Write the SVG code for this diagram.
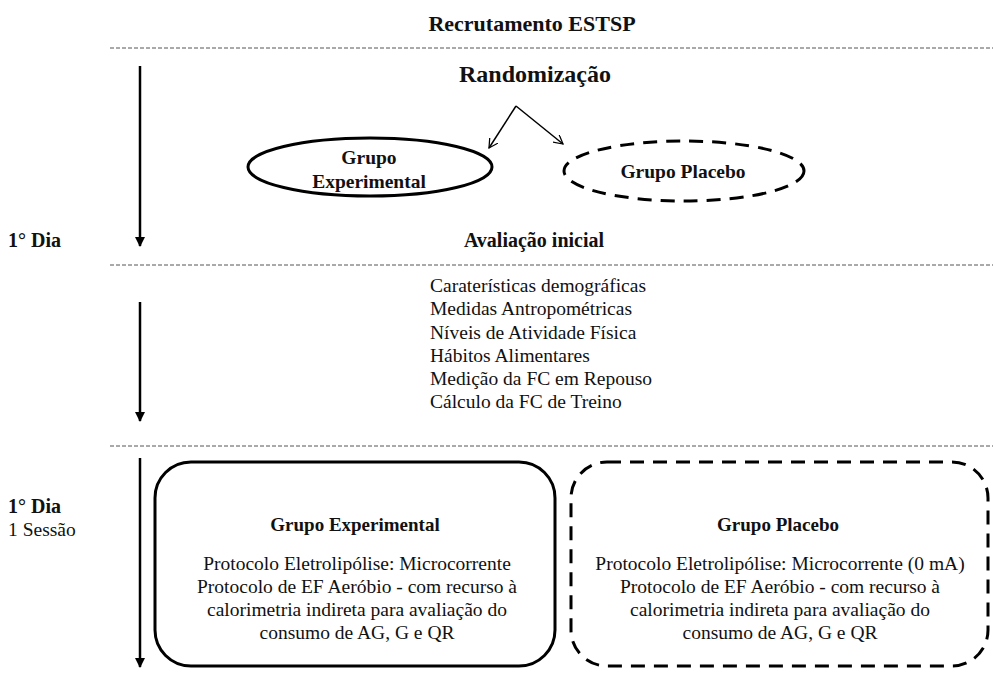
<svg xmlns="http://www.w3.org/2000/svg" width="993" height="674" viewBox="0 0 993 674">
<style>
.sep{stroke:#555;stroke-width:1;stroke-dasharray:4 2;fill:none;}
.ar{stroke:#000;stroke-width:2.5;fill:none;}
.thin{stroke:#000;stroke-width:1.5;fill:none;}
.solid{stroke:#000;stroke-width:3;fill:#fff;}
.dash{stroke:#000;stroke-width:3;fill:#fff;stroke-dasharray:14 9;}
</style>
<defs>
<marker id="ah" viewBox="0 0 10 10" refX="9" refY="5" markerWidth="4" markerHeight="4" orient="auto"><path d="M0,0 L10,5 L0,10 z" fill="#000"/></marker>
<marker id="oh" viewBox="0 0 12 12" refX="11" refY="6" markerWidth="10" markerHeight="10" markerUnits="userSpaceOnUse" orient="auto"><path d="M0,0 L11,6 L0,12" fill="none" stroke="#000" stroke-width="1.5"/></marker>
</defs>
<g id="separators">
<line class="sep" x1="110" y1="48" x2="993" y2="48"/>
<line class="sep" x1="110" y1="265" x2="993" y2="265"/>
<line class="sep" x1="110" y1="446" x2="993" y2="446"/>
</g>
<g id="connectors">
<line class="ar" x1="140" y1="66" x2="140" y2="246" marker-end="url(#ah)"/>
<line class="ar" x1="140" y1="302" x2="140" y2="421" marker-end="url(#ah)"/>
<line class="ar" x1="140" y1="458" x2="140" y2="667" marker-end="url(#ah)"/>
<line class="thin" x1="516" y1="106" x2="489" y2="148" marker-end="url(#oh)"/>
<line class="thin" x1="516" y1="106" x2="563" y2="144" marker-end="url(#oh)"/>
</g>
<g id="title"><text font-family="Liberation Serif" font-weight="bold" fill="#111" x="532" y="31" font-size="22" text-anchor="middle">Recrutamento ESTSP</text></g>
<g id="randomizacao"><text font-family="Liberation Serif" font-weight="bold" fill="#111" x="535" y="82" font-size="24" text-anchor="middle">Randomização</text></g>
<g id="ellipse-experimental">
<ellipse class="solid" cx="370" cy="167" rx="122" ry="29"/>
<text font-family="Liberation Serif" font-weight="bold" fill="#111" x="369" y="164" font-size="19.5" text-anchor="middle">Grupo</text>
<text font-family="Liberation Serif" font-weight="bold" fill="#111" x="369" y="188" font-size="19.5" text-anchor="middle">Experimental</text>
</g>
<g id="ellipse-placebo">
<ellipse class="dash" cx="684" cy="171" rx="120" ry="30"/>
<text font-family="Liberation Serif" font-weight="bold" fill="#111" x="683" y="178" font-size="19.5" text-anchor="middle">Grupo Placebo</text>
</g>
<g id="dia1"><text font-family="Liberation Serif" font-weight="bold" fill="#111" x="8" y="247" font-size="20">1° Dia</text></g>
<g id="avaliacao"><text font-family="Liberation Serif" font-weight="bold" fill="#111" x="534" y="247" font-size="20" text-anchor="middle">Avaliação inicial</text></g>
<g id="lista">
<text font-family="Liberation Serif" fill="#111" font-size="19.5" x="430" y="292">Caraterísticas demográficas</text>
<text font-family="Liberation Serif" fill="#111" font-size="19.5" x="430" y="315">Medidas Antropométricas</text>
<text font-family="Liberation Serif" fill="#111" font-size="19.5" x="430" y="339">Níveis de Atividade Física</text>
<text font-family="Liberation Serif" fill="#111" font-size="19.5" x="430" y="362">Hábitos Alimentares</text>
<text font-family="Liberation Serif" fill="#111" font-size="19.5" x="430" y="385">Medição da FC em Repouso</text>
<text font-family="Liberation Serif" fill="#111" font-size="19.5" x="430" y="408">Cálculo da FC de Treino</text>
</g>
<g id="dia1-sessao">
<text font-family="Liberation Serif" font-weight="bold" fill="#111" x="8" y="513" font-size="20">1° Dia</text>
<text font-family="Liberation Serif" fill="#111" x="8" y="536" font-size="19.5">1 Sessão</text>
</g>
<g id="box-experimental">
<rect class="solid" x="155" y="462" width="400" height="204" rx="36" ry="36"/>
<text font-family="Liberation Serif" font-weight="bold" fill="#111" x="355" y="531" font-size="19" text-anchor="middle">Grupo Experimental</text>
<text font-family="Liberation Serif" fill="#111" x="357" y="570" font-size="19.5" text-anchor="middle">Protocolo Eletrolipólise: Microcorrente</text>
<text font-family="Liberation Serif" fill="#111" x="357" y="593" font-size="19.5" text-anchor="middle">Protocolo de EF Aeróbio - com recurso à</text>
<text font-family="Liberation Serif" fill="#111" x="357" y="616" font-size="19.5" text-anchor="middle">calorimetria indireta para avaliação do</text>
<text font-family="Liberation Serif" fill="#111" x="357" y="639" font-size="19.5" text-anchor="middle">consumo de AG, G e QR</text>
</g>
<g id="box-placebo">
<rect class="dash" x="571" y="462" width="417" height="204" rx="36" ry="36"/>
<text font-family="Liberation Serif" font-weight="bold" fill="#111" x="778" y="531" font-size="19" text-anchor="middle">Grupo Placebo</text>
<text font-family="Liberation Serif" fill="#111" x="780" y="570" font-size="19.5" text-anchor="middle">Protocolo Eletrolipólise: Microcorrente (0 mA)</text>
<text font-family="Liberation Serif" fill="#111" x="780" y="593" font-size="19.5" text-anchor="middle">Protocolo de EF Aeróbio - com recurso à</text>
<text font-family="Liberation Serif" fill="#111" x="780" y="616" font-size="19.5" text-anchor="middle">calorimetria indireta para avaliação do</text>
<text font-family="Liberation Serif" fill="#111" x="780" y="639" font-size="19.5" text-anchor="middle">consumo de AG, G e QR</text>
</g>
</svg>
